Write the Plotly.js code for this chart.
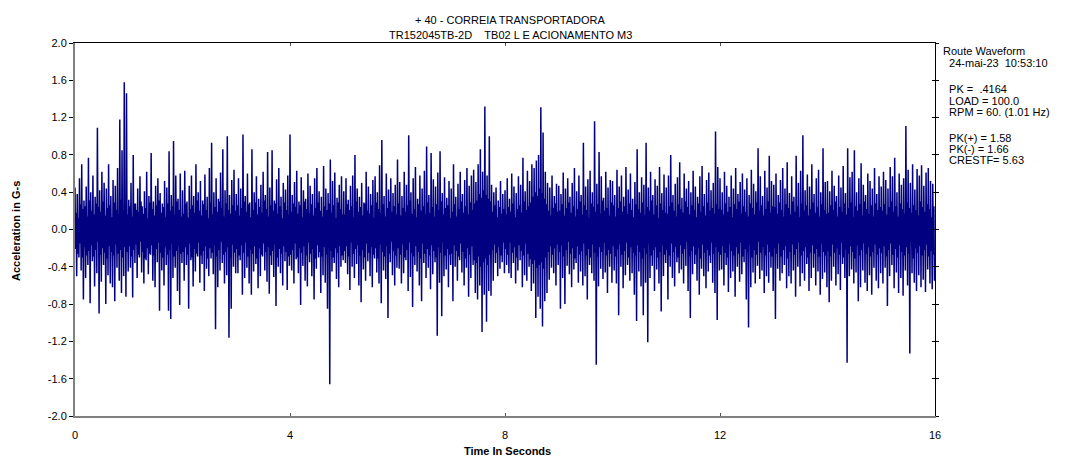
<!DOCTYPE html>
<html>
<head>
<meta charset="utf-8">
<script src="https://cdn.plot.ly/plotly-3.0.1.min.js"></script>
<style>
html,body{margin:0;padding:0;background:#fff;}
#chart{width:1071px;height:469px;}
</style>
</head>
<body>
<div id="chart"></div>
<script>
// Sampling of the read-off waveform (96 samples per second, 0..16 s)
const sampleStart = 0;
const samplesPerSecond = 96;

// Acceleration in G-s, one row per second
const accel_00 = [0.45,-0.21,0.18,-0.50,0.38,-0.26,0.12,-0.30,0.55,-0.15,0.27,-0.44,0.70,-0.30,0.22,-0.75,0.31,-0.19,0.25,-0.52,0.46,-0.28,0.14,-0.38,0.77,-0.23,0.31,-0.79,0.40,-0.17,0.20,-0.34,0.58,-0.29,0.16,-0.61,0.35,-0.22,0.28,-0.47,1.09,-0.13,0.24,-0.90,0.42,-0.27,0.19,-0.56,0.62,-0.20,0.30,-0.38,0.50,-0.25,0.15,-0.80,0.44,-0.31,0.23,-0.49,0.70,-0.18,0.26,-0.58,0.36,-0.24,0.13,-0.62,0.53,-0.28,0.29,-0.77,0.47,-0.16,0.21,-0.41,0.66,-0.26,0.17,-0.55,1.18,-0.22,0.32,-0.68,0.85,-0.30,0.20,-0.50,1.58,-0.19,0.27,-0.72,1.46,-0.24,0.16,-0.45];
const accel_01 = [0.32,-0.18,0.25,-0.41,0.50,-0.29,0.14,-0.73,0.80,-0.22,0.28,-0.36,0.28,-0.16,0.21,-0.52,0.44,-0.27,0.19,-0.30,0.57,-0.13,0.30,-0.46,0.25,-0.24,0.17,-0.58,0.41,-0.31,0.23,-0.33,0.62,-0.20,0.12,-0.48,0.36,-0.26,0.29,-0.27,0.82,-0.17,0.22,-0.55,0.30,-0.28,0.15,-0.62,0.47,-0.21,0.26,-0.35,0.55,-0.14,0.31,-0.87,0.39,-0.25,0.18,-0.44,0.28,-0.30,0.24,-0.60,0.52,-0.19,0.13,-0.38,0.45,-0.27,0.28,-0.87,0.84,-0.22,0.20,-0.96,0.37,-0.15,0.25,-0.52,0.95,-0.29,0.16,-0.41,0.58,-0.23,0.30,-0.66,0.33,-0.18,0.21,-0.81,0.60,-0.26,0.14,-0.36];
const accel_02 = [0.42,-0.24,0.17,-0.55,0.63,-0.19,0.28,-0.38,0.30,-0.27,0.13,-0.85,0.47,-0.15,0.22,-0.33,0.58,-0.30,0.26,-0.61,0.36,-0.21,0.18,-0.45,0.70,-0.26,0.31,-0.29,0.40,-0.14,0.20,-0.57,0.52,-0.28,0.15,-0.37,0.31,-0.23,0.27,-0.66,0.59,-0.18,0.21,-0.42,0.35,-0.31,0.12,-0.50,0.66,-0.20,0.29,-0.31,0.93,-0.25,0.16,-0.48,0.40,-0.17,0.24,-1.07,0.55,-0.29,0.19,-0.62,0.33,-0.22,0.30,-0.44,0.61,-0.13,0.23,-0.36,0.86,-0.27,0.14,-0.58,0.42,-0.24,0.28,-0.49,1.00,-0.19,0.21,-1.16,0.37,-0.30,0.17,-0.85,0.53,-0.16,0.26,-0.40,0.64,-0.25,0.20,-0.47];
const accel_03 = [0.38,-0.21,0.26,-0.47,0.55,-0.28,0.15,-0.33,0.44,-0.17,0.23,-0.70,1.02,-0.25,0.30,-0.52,0.36,-0.14,0.19,-0.41,0.60,-0.29,0.27,-0.58,0.29,-0.22,0.13,-0.70,0.86,-0.26,0.21,-0.45,0.40,-0.18,0.29,-0.37,0.57,-0.31,0.16,-0.63,0.33,-0.20,0.24,-0.50,0.48,-0.27,0.18,-0.29,0.62,-0.15,0.31,-0.44,0.37,-0.24,0.22,-0.56,0.83,-0.19,0.14,-0.69,0.45,-0.28,0.26,-0.38,0.85,-0.23,0.20,-0.51,0.31,-0.16,0.28,-0.82,0.54,-0.30,0.17,-0.40,0.66,-0.21,0.25,-0.47,0.35,-0.26,0.12,-0.60,0.50,-0.18,0.29,-0.34,0.43,-0.24,0.21,-0.65,0.58,-0.29,0.16,-0.39];
const accel_04 = [1.02,-0.27,0.19,-0.44,0.37,-0.22,0.28,-0.58,0.51,-0.15,0.24,-0.32,0.63,-0.30,0.17,-0.47,0.30,-0.20,0.26,-0.81,0.56,-0.25,0.13,-0.39,0.42,-0.18,0.30,-0.55,0.33,-0.28,0.22,-0.61,0.60,-0.14,0.18,-0.35,0.47,-0.26,0.27,-0.50,0.38,-0.21,0.15,-0.75,0.55,-0.31,0.23,-0.42,0.66,-0.17,0.29,-0.30,0.41,-0.24,0.20,-0.68,0.35,-0.29,0.14,-0.49,0.68,-0.19,0.25,-0.57,0.44,-0.27,0.21,-0.85,0.39,-0.16,0.28,-1.66,0.75,-0.23,0.18,-0.45,0.52,-0.30,0.26,-0.36,0.61,-0.20,0.12,-0.53,0.34,-0.25,0.29,-0.62,0.48,-0.18,0.22,-0.40,0.57,-0.28,0.16,-0.33];
const accel_05 = [0.41,-0.23,0.16,-0.36,0.55,-0.18,0.27,-0.48,0.32,-0.29,0.21,-0.65,0.47,-0.14,0.25,-0.40,0.58,-0.26,0.13,-0.52,0.80,-0.21,0.30,-0.37,0.44,-0.17,0.19,-0.60,0.35,-0.28,0.24,-0.78,0.50,-0.22,0.15,-0.43,0.29,-0.30,0.28,-0.55,0.62,-0.15,0.20,-0.34,0.46,-0.25,0.17,-0.50,0.38,-0.19,0.26,-0.62,0.53,-0.27,0.12,-0.31,0.57,-0.20,0.29,-0.46,0.40,-0.31,0.22,-0.58,0.69,-0.16,0.18,-0.79,0.96,-0.24,0.27,-0.44,0.36,-0.29,0.14,-0.53,0.60,-0.18,0.23,-0.95,0.43,-0.26,0.30,-0.35,0.55,-0.13,0.19,-0.49,0.39,-0.23,0.25,-0.60,0.48,-0.28,0.16,-0.41];
const accel_06 = [0.75,-0.20,0.28,-0.42,0.51,-0.27,0.15,-0.58,0.36,-0.16,0.23,-0.47,0.62,-0.30,0.19,-0.33,0.48,-0.22,0.26,-0.66,1.01,-0.14,0.31,-0.51,0.40,-0.25,0.17,-0.83,0.55,-0.29,0.22,-0.38,0.67,-0.18,0.13,-0.45,0.33,-0.24,0.27,-0.60,0.58,-0.31,0.20,-0.77,0.44,-0.15,0.25,-0.36,0.63,-0.26,0.16,-0.52,0.89,-0.21,0.29,-0.41,0.37,-0.28,0.18,-0.64,0.82,-0.17,0.24,-0.48,0.54,-0.23,0.14,-0.35,0.46,-0.30,0.27,-1.14,0.61,-0.19,0.21,-0.57,0.84,-0.25,0.30,-0.93,0.39,-0.13,0.16,-0.50,0.56,-0.28,0.23,-0.43,0.34,-0.21,0.26,-0.62,0.52,-0.27,0.12,-0.38];
const accel_07 = [0.44,-0.26,0.19,-0.77,0.70,-0.17,0.27,-0.40,0.35,-0.23,0.14,-0.55,0.49,-0.29,0.22,-0.33,0.62,-0.15,0.30,-0.46,0.38,-0.24,0.18,-0.60,0.53,-0.31,0.25,-0.41,0.66,-0.20,0.16,-0.72,0.47,-0.27,0.29,-0.52,0.58,-0.18,0.21,-0.38,0.64,-0.33,0.28,-0.68,0.51,-0.36,0.31,-0.75,0.70,-0.29,0.38,-0.60,0.86,-0.40,0.34,-1.10,0.62,-0.35,0.42,-0.70,1.32,-0.31,0.37,-0.99,0.58,-0.38,0.33,-0.66,1.00,-0.27,0.30,-0.71,0.48,-0.22,0.19,-0.55,0.40,-0.16,0.26,-0.36,0.45,-0.25,0.13,-0.50,0.31,-0.19,0.24,-0.42,0.52,-0.28,0.17,-0.35,0.38,-0.14,0.22,-0.47];
const accel_08 = [0.42,-0.21,0.16,-0.38,0.55,-0.27,0.24,-0.47,0.33,-0.14,0.19,-0.52,0.60,-0.25,0.28,-0.36,0.46,-0.19,0.13,-0.58,0.39,-0.30,0.22,-0.44,0.57,-0.17,0.26,-0.33,0.48,-0.23,0.18,-0.62,0.77,-0.28,0.30,-0.49,0.41,-0.15,0.21,-0.55,0.63,-0.26,0.25,-0.40,0.52,-0.32,0.29,-0.66,0.70,-0.37,0.35,-0.58,0.66,-0.33,0.40,-0.95,0.74,-0.41,0.36,-0.72,0.80,-0.38,0.44,-0.85,1.31,-0.35,0.39,-1.04,1.04,-0.42,0.33,-0.77,0.62,-0.30,0.27,-0.68,0.50,-0.24,0.20,-0.54,0.45,-0.18,0.15,-0.41,0.58,-0.27,0.23,-0.47,0.36,-0.20,0.28,-0.60,0.49,-0.16,0.19,-0.38];
const accel_09 = [0.47,-0.24,0.20,-0.85,0.38,-0.17,0.27,-0.52,0.61,-0.29,0.15,-0.80,0.44,-0.22,0.23,-0.39,0.55,-0.13,0.29,-0.48,0.35,-0.26,0.18,-0.62,0.50,-0.20,0.25,-0.43,0.66,-0.31,0.14,-0.36,0.41,-0.18,0.22,-0.57,0.58,-0.27,0.30,-0.45,0.37,-0.23,0.16,-0.60,0.93,-0.15,0.26,-0.50,0.46,-0.28,0.21,-0.75,0.54,-0.21,0.12,-0.38,0.63,-0.30,0.28,-0.47,0.40,-0.16,0.24,-0.55,1.16,-0.25,0.19,-1.45,0.49,-0.29,0.27,-0.61,0.83,-0.19,0.17,-0.42,0.57,-0.24,0.31,-0.53,0.34,-0.14,0.20,-0.46,0.62,-0.28,0.23,-0.68,0.45,-0.22,0.15,-0.40,0.53,-0.26,0.29,-0.57];
const accel_10 = [0.52,-0.18,0.26,-0.44,0.37,-0.29,0.14,-0.58,0.64,-0.21,0.23,-0.92,0.46,-0.16,0.30,-0.40,0.58,-0.27,0.19,-0.63,0.35,-0.23,0.25,-0.49,0.67,-0.14,0.17,-0.38,0.43,-0.30,0.28,-0.55,0.60,-0.19,0.21,-0.47,0.33,-0.25,0.13,-0.70,0.51,-0.28,0.27,-0.98,0.86,-0.17,0.22,-0.45,0.40,-0.24,0.18,-0.61,0.56,-0.31,0.29,-0.92,0.48,-0.20,0.15,-0.57,0.93,-0.26,0.24,-1.21,0.45,-0.15,0.20,-0.52,0.62,-0.28,0.31,-0.39,0.37,-0.22,0.16,-0.66,0.54,-0.19,0.26,-0.43,0.47,-0.30,0.12,-0.58,0.67,-0.24,0.28,-0.88,0.39,-0.17,0.21,-0.50,0.59,-0.27,0.18,-0.36];
const accel_11 = [0.45,-0.22,0.17,-0.75,0.58,-0.28,0.25,-0.40,0.80,-0.15,0.29,-0.52,0.37,-0.24,0.20,-0.61,0.49,-0.19,0.14,-0.35,0.56,-0.30,0.27,-0.47,0.72,-0.17,0.22,-0.43,0.34,-0.26,0.18,-0.58,0.60,-0.21,0.30,-0.39,0.44,-0.13,0.24,-0.66,0.52,-0.29,0.16,-0.95,0.40,-0.23,0.26,-0.48,0.63,-0.18,0.21,-0.37,0.46,-0.27,0.13,-0.55,0.35,-0.20,0.28,-0.70,0.57,-0.31,0.19,-0.42,0.68,-0.16,0.25,-0.50,0.38,-0.25,0.15,-0.63,0.53,-0.22,0.29,-0.45,0.61,-0.28,0.20,-0.36,0.42,-0.14,0.23,-0.57,0.50,-0.26,0.17,-0.68,1.05,-0.19,0.27,-0.97,0.67,-0.24,0.22,-0.44];
const accel_12 = [0.55,-0.27,0.21,-0.43,0.40,-0.18,0.16,-0.60,0.62,-0.25,0.28,-0.38,0.47,-0.30,0.19,-0.67,0.35,-0.15,0.24,-0.52,0.58,-0.23,0.13,-0.45,0.44,-0.28,0.27,-0.72,0.66,-0.19,0.22,-0.40,0.38,-0.26,0.30,-0.56,0.51,-0.14,0.17,-0.48,0.60,-0.29,0.25,-0.35,0.43,-0.21,0.19,-0.75,0.55,-0.24,0.14,-1.05,0.37,-0.17,0.28,-0.62,0.64,-0.30,0.23,-0.46,0.49,-0.22,0.16,-0.58,0.41,-0.27,0.29,-0.39,0.87,-0.13,0.20,-0.53,0.57,-0.25,0.26,-0.44,0.36,-0.19,0.15,-0.68,0.63,-0.28,0.22,-0.50,0.45,-0.16,0.30,-0.57,0.79,-0.24,0.18,-0.41,0.52,-0.29,0.25,-0.66];
const accel_13 = [0.48,-0.20,0.24,-0.96,0.60,-0.26,0.17,-0.42,0.37,-0.15,0.29,-0.55,0.53,-0.29,0.21,-0.47,0.66,-0.22,0.14,-0.38,0.44,-0.18,0.27,-0.63,0.72,-0.31,0.23,-0.50,0.39,-0.24,0.16,-0.58,0.57,-0.16,0.30,-0.44,0.35,-0.27,0.19,-0.72,0.79,-0.21,0.25,-0.40,0.50,-0.14,0.13,-0.61,0.63,-0.28,0.28,-0.47,1.01,-0.23,0.20,-0.55,0.42,-0.19,0.26,-0.37,0.59,-0.30,0.15,-0.66,0.46,-0.25,0.22,-0.52,0.70,-0.17,0.29,-0.41,0.38,-0.26,0.18,-0.60,0.55,-0.21,0.24,-0.45,0.64,-0.29,0.14,-0.70,0.40,-0.15,0.27,-0.53,0.87,-0.24,0.21,-0.46,0.51,-0.28,0.17,-0.62];
const accel_14 = [0.52,-0.23,0.18,-0.78,0.41,-0.29,0.26,-0.55,0.63,-0.16,0.21,-0.40,0.47,-0.25,0.30,-0.60,0.36,-0.20,0.14,-0.48,0.58,-0.27,0.24,-0.65,0.45,-0.14,0.19,-0.37,0.68,-0.30,0.28,-0.52,0.39,-0.21,0.16,-1.43,0.87,-0.26,0.23,-0.50,0.56,-0.18,0.29,-0.43,0.62,-0.24,0.13,-0.58,0.85,-0.31,0.25,-0.46,0.40,-0.17,0.20,-0.77,0.55,-0.28,0.27,-0.62,0.71,-0.22,0.15,-0.44,0.48,-0.15,0.30,-0.57,0.37,-0.26,0.22,-0.66,0.60,-0.19,0.17,-0.49,0.52,-0.29,0.26,-0.70,0.44,-0.24,0.14,-0.41,0.66,-0.16,0.28,-0.55,0.38,-0.27,0.21,-0.63,0.57,-0.20,0.24,-0.47];
const accel_15 = [0.46,-0.25,0.20,-0.58,0.62,-0.18,0.27,-0.41,0.53,-0.29,0.16,-0.82,0.44,-0.22,0.24,-0.50,0.67,-0.15,0.30,-0.38,0.57,-0.27,0.19,-0.63,0.77,-0.21,0.25,-0.46,0.40,-0.30,0.14,-0.68,0.60,-0.17,0.28,-0.52,0.48,-0.24,0.22,-0.71,0.55,-0.28,0.17,-0.44,1.11,-0.19,0.29,-0.60,0.64,-0.26,0.23,-1.33,0.50,-0.14,0.18,-0.47,0.70,-0.31,0.26,-0.57,0.43,-0.20,0.21,-0.66,0.65,-0.25,0.15,-0.49,0.58,-0.18,0.30,-0.62,0.69,-0.28,0.24,-0.54,0.47,-0.22,0.19,-0.67,0.61,-0.16,0.27,-0.43,0.66,-0.29,0.22,-0.58,0.52,-0.23,0.13,-0.64,0.49,-0.27,0.25,-0.55];

// Axis ticks
const xTickVals = [0, 4, 8, 12, 16];
const xTickText = ["0", "4", "8", "12", "16"];
const yTickVals = [2.0, 1.6, 1.2, 0.8, 0.4, 0.0, -0.4, -0.8, -1.2, -1.6, -2.0];
const yTickText = ["2.0", "1.6", "1.2", "0.8", "0.4", "0.0", "-0.4", "-0.8", "-1.2", "-1.6", "-2.0"];

// Texts
const titleLines = ["+ 40 - CORREIA TRANSPORTADORA", "TR152045TB-2D\u00a0\u00a0\u00a0\u00a0TB02 L E ACIONAMENTO M3"];
const xTitle = "Time In Seconds";
const yTitle = "Acceleration in G-s";
const infoLines = [
  "Route Waveform",
  "\u00a0\u00a024-mai-23\u00a0\u00a010:53:10",
  "\u00a0\u00a0PK\u00a0=\u00a0\u00a0.4164",
  "\u00a0\u00a0LOAD = 100.0",
  "\u00a0\u00a0RPM = 60. (1.01 Hz)",
  "\u00a0\u00a0PK(+) = 1.58",
  "\u00a0\u00a0PK(-) = 1.66",
  "\u00a0\u00a0CRESTF= 5.63"
];
const infoY = [50.7, 63.3, 89, 100.5, 111.5, 138, 149, 160];

const accel = [].concat(accel_00, accel_01, accel_02, accel_03, accel_04, accel_05, accel_06, accel_07,
  accel_08, accel_09, accel_10, accel_11, accel_12, accel_13, accel_14, accel_15);

const W = 1071, H = 469;
const M = {l: 75, r: 136, t: 43, b: 53};
const PW = W - M.l - M.r, PH = H - M.t - M.b;
const FONT = "Liberation Sans, Arial, sans-serif";
function px2paperX(px){ return (px - M.l) / PW; }
function px2paperY(py){ return (H - M.b - py) / PH; }

const traces = [
  {
    type: 'scatter', mode: 'lines',
    y: accel, x0: sampleStart, dx: 1 / samplesPerSecond,
    line: {color: 'rgb(0,0,128)', width: 1.5, simplify: false},
    hoverinfo: 'skip', showlegend: false
  },
  {type: 'scatter', mode: 'lines', x: [null], y: [null], xaxis: 'x2', yaxis: 'y2', showlegend: false, hoverinfo: 'skip'},
  {type: 'scatter', mode: 'lines', x: [null], y: [null], xaxis: 'x', yaxis: 'y3', showlegend: false, hoverinfo: 'skip'}
];

const annotations = [];
titleLines.forEach((t, i) => {
  annotations.push({
    text: t, xref: 'paper', yref: 'paper', x: px2paperX(510), y: px2paperY(i === 0 ? 20 : 34.5),
    xanchor: 'center', yanchor: 'middle', showarrow: false,
    font: {family: FONT, size: 11, color: '#000'}
  });
});
infoLines.forEach((t, i) => {
  annotations.push({
    text: t, xref: 'paper', yref: 'paper', x: px2paperX(941), y: px2paperY(infoY[i]),
    xanchor: 'left', yanchor: 'middle', showarrow: false,
    font: {family: FONT, size: 11, color: '#000'}
  });
});
annotations.push({
  text: '<b>' + yTitle + '</b>', xref: 'paper', yref: 'paper', x: px2paperX(16), y: px2paperY(231),
  xanchor: 'center', yanchor: 'middle', textangle: -90, showarrow: false,
  font: {family: FONT, size: 11, color: '#000'}
});
annotations.push({
  text: '<b>' + xTitle + '</b>', xref: 'paper', yref: 'paper', x: px2paperX(508), y: px2paperY(451),
  xanchor: 'center', yanchor: 'middle', showarrow: false,
  font: {family: FONT, size: 11, color: '#000'}
});

const layout = {
  width: W, height: H,
  margin: M,
  paper_bgcolor: '#fff', plot_bgcolor: '#fff',
  showlegend: false,
  hovermode: false,
  xaxis: {
    range: [0, 16], tickmode: 'array', tickvals: xTickVals, ticktext: xTickText,
    ticks: 'inside', ticklen: 3, tickcolor: '#555', tickwidth: 1,
    ticklabelstandoff: 8,
    showline: true, linecolor: '#808080', linewidth: 2,
    showgrid: false, zeroline: false, fixedrange: true,
    tickfont: {family: FONT, size: 11, color: '#000'}
  },
  xaxis2: {
    overlaying: 'x', side: 'top', anchor: 'y2',
    range: [0, 16], tickmode: 'array', tickvals: xTickVals,
    ticks: 'inside', ticklen: 3, tickcolor: '#555',
    showline: true, linecolor: '#000', linewidth: 1,
    showgrid: false, zeroline: false, showticklabels: false
  },
  yaxis: {
    range: [-2, 2], tickmode: 'array', tickvals: yTickVals, ticktext: yTickText,
    ticks: 'outside', ticklen: 4, tickcolor: '#000', tickwidth: 1,
    showline: true, linecolor: '#808080', linewidth: 2,
    showgrid: false, zeroline: false, fixedrange: true,
    tickfont: {family: FONT, size: 11, color: '#000'}
  },
  yaxis2: {
    overlaying: 'y', side: 'right', anchor: 'x2',
    range: [-2, 2], tickmode: 'array', tickvals: yTickVals,
    ticks: 'outside', ticklen: 3, tickcolor: '#000',
    showline: true, linecolor: '#000', linewidth: 1,
    showgrid: false, zeroline: false, showticklabels: false
  },
  yaxis3: {
    overlaying: 'y', side: 'right', anchor: 'x',
    range: [-2, 2], tickmode: 'array', tickvals: yTickVals,
    ticks: 'inside', ticklen: 3, tickcolor: '#000',
    showline: false,
    showgrid: false, zeroline: false, showticklabels: false
  },
  annotations: annotations
};

Plotly.newPlot('chart', traces, layout, {staticPlot: true, displayModeBar: false});
</script>
</body>
</html>
